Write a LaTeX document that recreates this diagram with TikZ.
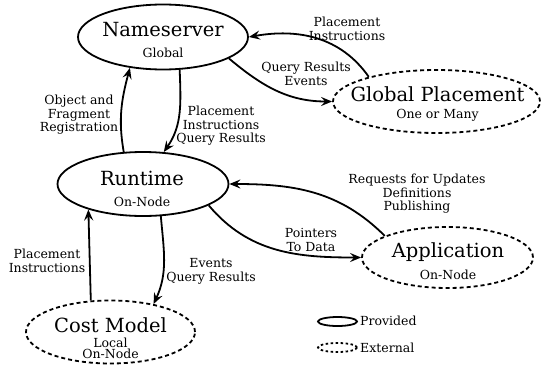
\documentclass[tikz,border=0pt]{standalone}
\usepackage{fontspec}
\setmainfont{DejaVu Serif}
\usetikzlibrary{shapes.geometric,arrows.meta}
\begin{document}
\begin{tikzpicture}[x=1pt,y=1pt,
  comp/.style={ellipse, draw, line width=1.8pt, inner sep=0pt},
  ext/.style={comp, dash pattern=on 4pt off 3pt},
  title/.style={font=\fontsize{19.5}{21}\selectfont, inner sep=0pt},
  sub/.style={font=\fontsize{12.5}{13.5}\selectfont, inner sep=0pt},
  lbl/.style={font=\fontsize{12.5}{13.5}\selectfont, align=center, inner sep=0pt},
  flow/.style={-{Stealth[length=11pt,width=9pt,inset=4pt]}, line width=1.8pt},
]
\useasboundingbox (0,0) rectangle (541,-367);
% components
\node[comp, minimum width=170pt, minimum height=65pt] (ns) at (163,-37) {};
\node[ext, minimum width=207pt, minimum height=63pt] (gp) at (436.5,-101.5) {};
\node[comp, minimum width=171pt, minimum height=64pt] (rt) at (143,-184) {};
\node[ext, minimum width=171pt, minimum height=61pt] (app) at (447.5,-257.5) {};
\node[ext, minimum width=169pt, minimum height=63pt] (cm) at (110.5,-332) {};
% component texts
\node[title] (nsT) at (163,-30) {Nameserver};
\node[sub] (nsS) at (163,-53) {Global};
\node[title] (gpT) at (437.5,-94) {Global Placement};
\node[sub] (gpS) at (437.5,-115) {One or Many};
\node[title] (rtT) at (142,-178) {Runtime};
\node[sub] (rtS) at (142,-202) {On-Node};
\node[title] (appT) at (448,-252) {Application};
\node[sub] (appS) at (448,-275) {On-Node};
\node[title] (cmT) at (110.5,-325) {Cost Model};
\node[sub, align=center, font=\fontsize{12.5}{11}\selectfont] (cmS) at (110.5,-348.5) {Local\\On-Node};
% labels
\node[lbl] (l1) at (79,-115) {Object and\\Fragment\\Registration};
\node[lbl] (l2) at (221,-126) {Placement\\Instructions\\Query Results};
\node[lbl] (l3) at (347,-29) {Placement\\Instructions};
\node[lbl] (l4) at (306,-74) {Query Results\\Events};
\node[lbl] (l5) at (47,-261) {Placement\\Instructions};
\node[lbl] (l6) at (211,-271.5) {Events\\Query Results};
\node[lbl] (l7) at (417,-194) {Requests for Updates\\Definitions\\Publishing};
\node[lbl] (l8) at (311,-240) {Pointers\\To Data};
% legend
\node[comp, minimum width=39pt, minimum height=9pt] (legP) at (337.5,-321.5) {};
\node[ext, dash pattern=on 2.5pt off 2.5pt, minimum width=39pt, minimum height=9pt] (legE) at (337.5,-347.5) {};
\node[sub, anchor=west] (legPT) at (360,-321) {Provided};
\node[sub, anchor=west] (legET) at (360,-348) {External};
% connectors
\draw[flow] (rt.121) to[out=100,in=-105] (ns.223);
\draw[flow] (ns.297) to[out=-88,in=55] (rt.57);
\draw[flow] (gp.160) to[out=125,in=10] (ns.0);
\draw[flow] (ns.-18) to[out=-40,in=180] (gp.180);
\draw[flow] (app.161) to[out=135,in=0] (rt.0);
\draw[flow] (rt.-18) to[out=-50,in=180] (app.180);
\draw[flow] (cm.122) -- (rt.205);
\draw[flow] (rt.-61) to[out=-85,in=65] (cm.33);
\end{tikzpicture}
\end{document}
